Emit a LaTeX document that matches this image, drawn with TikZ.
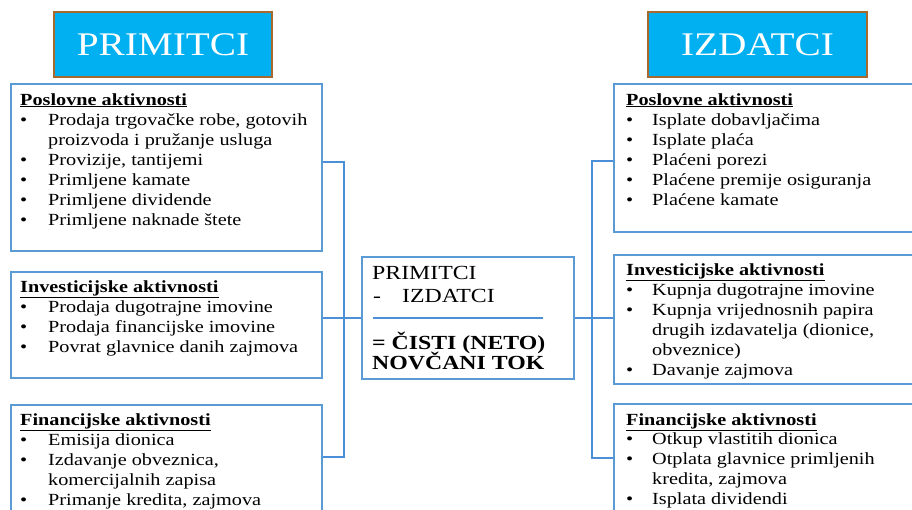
\documentclass[tikz,border=0pt]{standalone}
\usepackage{fontspec}
\setmainfont{Liberation Serif}[FakeStretch=1.19]
\definecolor{boxblue}{HTML}{5B9BD5}
\definecolor{lineblue}{HTML}{4A8FD8}
\definecolor{ttlcyan}{HTML}{00B0F0}
\definecolor{ttlbrown}{HTML}{A8692E}
\newcommand\lbul{\makebox[28pt][l]{\textbullet}}
\newcommand\rbul{\makebox[26pt][l]{\textbullet}}
\newcommand\hdg[1]{\underline{\textbf{#1}}}
\tikzset{
 box/.style={draw=boxblue, line width=1.2pt, rectangle, inner sep=0pt},
 ttl/.style={draw=ttlbrown, fill=ttlcyan, line width=1.6pt, rectangle, inner sep=0pt, text=white, font=\fontsize{33}{36}\selectfont},
 txt/.style={anchor=base west, inner sep=0pt, font=\fontsize{17}{20}\selectfont},
 ctxt/.style={anchor=base west, inner sep=0pt, font=\fontsize{20}{24}\selectfont},
 cbold/.style={anchor=base west, inner sep=0pt, font=\fontsize{20}{24}\selectfont\bfseries},
 conn/.style={draw=lineblue, line width=1.3pt},
}
\begin{document}
\begin{tikzpicture}[x=1pt,y=-1pt]
\clip (0,0) rectangle (912,509);
\fill[white] (0,0) rectangle (912,509);
% titles
\node[ttl, minimum width=218pt, minimum height=65pt] (tL) at (163,44.5) {PRIMITCI};
\node[ttl, minimum width=219pt, minimum height=65pt] (tR) at (757.5,44.5) {IZDATCI};
% left boxes
\node[box, minimum width=311pt, minimum height=167pt] (pL) at (166.5,167.5) {};
\node[box, minimum width=311pt, minimum height=106pt] (iL) at (166.5,325) {};
\node[box, minimum width=311pt, minimum height=115pt] (fL) at (166.5,462.5) {};
% right boxes
\node[box, minimum width=302pt, minimum height=148pt] (pR) at (765,158) {};
\node[box, minimum width=302pt, minimum height=129pt] (iR) at (765,319.5) {};
\node[box, minimum width=302pt, minimum height=116pt] (fR) at (765,462) {};
% center box
\node[box, minimum width=212pt, minimum height=122pt] (C) at (468,318) {};
\node[ctxt] (c1) at (372,279) {PRIMITCI};
\node[ctxt] (c2) at (373,302) {\makebox[29pt][l]{-}IZDATCI};
\coordinate (rA) at (373,318);
\coordinate (rB) at (543,318);
\draw[conn] (rA) -- (rB);
\node[cbold] (c3) at (372,349) {= ČISTI (NETO)};
\node[cbold] (c4) at (372,369) {NOVČANI TOK};
% left texts
\node[txt] (pL0) at (20,105) {\hdg{Poslovne aktivnosti}};
\node[txt] (pL1) at (20,125) {\lbul Prodaja trgovačke robe, gotovih};
\node[txt] (pL2) at (48,145) {proizvoda i pružanje usluga};
\node[txt] (pL3) at (20,165) {\lbul Provizije, tantijemi};
\node[txt] (pL4) at (20,185) {\lbul Primljene kamate};
\node[txt] (pL5) at (20,205) {\lbul Primljene dividende};
\node[txt] (pL6) at (20,225) {\lbul Primljene naknade štete};
\node[txt] (iL0) at (20,292) {\hdg{Investicijske aktivnosti}};
\node[txt] (iL1) at (20,312) {\lbul Prodaja dugotrajne imovine};
\node[txt] (iL2) at (20,332) {\lbul Prodaja financijske imovine};
\node[txt] (iL3) at (20,352) {\lbul Povrat glavnice danih zajmova};
\node[txt] (fL0) at (20,425) {\hdg{Financijske aktivnosti}};
\node[txt] (fL1) at (20,445) {\lbul Emisija dionica};
\node[txt] (fL2) at (20,465) {\lbul Izdavanje obveznica,};
\node[txt] (fL3) at (48,485) {komercijalnih zapisa};
\node[txt] (fL4) at (20,505) {\lbul Primanje kredita, zajmova};
% right texts
\node[txt] (pR0) at (626,105) {\hdg{Poslovne aktivnosti}};
\node[txt] (pR1) at (626,125) {\rbul Isplate dobavljačima};
\node[txt] (pR2) at (626,145) {\rbul Isplate plaća};
\node[txt] (pR3) at (626,165) {\rbul Plaćeni porezi};
\node[txt] (pR4) at (626,185) {\rbul Plaćene premije osiguranja};
\node[txt] (pR5) at (626,205) {\rbul Plaćene kamate};
\node[txt] (iR0) at (626,275) {\hdg{Investicijske aktivnosti}};
\node[txt] (iR1) at (626,295) {\rbul Kupnja dugotrajne imovine};
\node[txt] (iR2) at (626,315) {\rbul Kupnja vrijednosnih papira};
\node[txt] (iR3) at (652,335) {drugih izdavatelja (dionice,};
\node[txt] (iR4) at (652,355) {obveznice)};
\node[txt] (iR5) at (626,375) {\rbul Davanje zajmova};
\node[txt] (fR0) at (626,425) {\hdg{Financijske aktivnosti}};
\node[txt] (fR1) at (626,444) {\rbul Otkup vlastitih dionica};
\node[txt] (fR2) at (626,464) {\rbul Otplata glavnice primljenih};
\node[txt] (fR3) at (652,484) {kredita, zajmova};
\node[txt] (fR4) at (626,504) {\rbul Isplata dividendi};
% connectors
\coordinate (jL) at (344,0);
\coordinate (jR) at (592,0);
\coordinate (pLc) at ([yshift=5.5pt]pL.east);
\coordinate (fLc) at ([yshift=5.5pt]fL.east);
\draw[conn] (pLc) -- (pLc -| jL) -- (fLc -| jL) -- (fLc);
\draw[conn] (iL.east |- C.west) -- (C.west);
\coordinate (pRc) at ([yshift=-3pt]pR.west);
\coordinate (fRc) at ([yshift=4pt]fR.west);
\draw[conn] (pRc) -- (pRc -| jR) -- (fRc -| jR) -- (fRc);
\draw[conn] (C.east) -- (C.east -| iR.west);
\end{tikzpicture}
\end{document}
